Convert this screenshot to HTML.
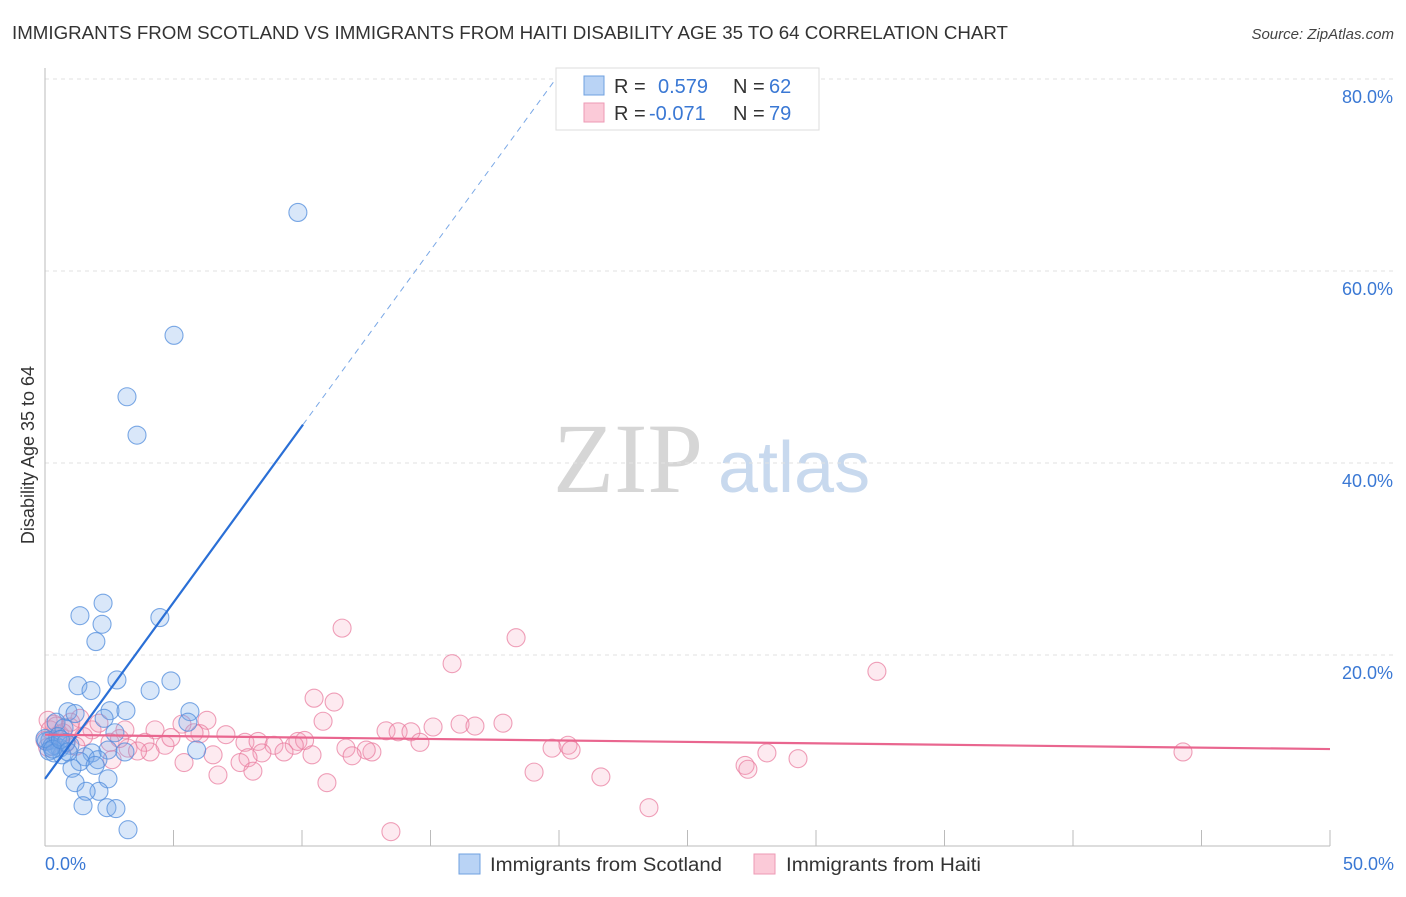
<!DOCTYPE html>
<html><head><meta charset="utf-8"><style>
body{margin:0;background:#fff;font-family:"Liberation Sans",sans-serif;}
</style></head><body>
<svg id="c" width="1406" height="892" viewBox="0 0 1406 892" font-family="Liberation Sans, sans-serif">
<text x="12" y="39" font-size="18" fill="#333" textLength="996" lengthAdjust="spacingAndGlyphs">IMMIGRANTS FROM SCOTLAND VS IMMIGRANTS FROM HAITI DISABILITY AGE 35 TO 64 CORRELATION CHART</text>
<text x="1394" y="39" font-size="15" fill="#444" font-style="italic" text-anchor="end">Source: ZipAtlas.com</text>
<g>
<text x="553" y="492" font-size="100" fill="#d6d6d6" style="font-family:'Liberation Serif',serif">ZIP</text>
<text x="718" y="492" font-size="72" fill="#c8d9ee">atlas</text>
</g>
<g id="grid"></g>
<g id="axes"></g>
<g id="pts"></g>
<g id="lines"></g>
<text x="34" y="455" font-size="18" fill="#333" text-anchor="middle" transform="rotate(-90 34 455)">Disability Age 35 to 64</text>
<text x="45" y="870" font-size="18" fill="#3a78d4">0.0%</text>
<text x="1394" y="870" font-size="18" fill="#3a78d4" text-anchor="end">50.0%</text>
<g>
<rect x="556" y="68" width="263" height="62" fill="#fff" stroke="#ddd"/>
<rect x="584" y="76" width="20" height="19" fill="#b9d3f5" stroke="#6fa0e0"/>
<rect x="584" y="103" width="20" height="19" fill="#fbcad8" stroke="#ee9ab5"/>
<text x="614" y="93" font-size="20" fill="#333">R =</text>
<text x="658" y="93" font-size="20" fill="#3a78d4">0.579</text>
<text x="733" y="93" font-size="20" fill="#333">N =</text>
<text x="769" y="93" font-size="20" fill="#3a78d4">62</text>
<text x="614" y="120" font-size="20" fill="#333">R =</text>
<text x="649" y="120" font-size="20" fill="#3a78d4">-0.071</text>
<text x="733" y="120" font-size="20" fill="#333">N =</text>
<text x="769" y="120" font-size="20" fill="#3a78d4">79</text>
</g>
<g>
<rect x="459" y="854" width="21" height="20" fill="#b9d3f5" stroke="#6fa0e0"/>
<text x="490" y="871" font-size="19" fill="#333" textLength="232" lengthAdjust="spacingAndGlyphs">Immigrants from Scotland</text>
<rect x="754" y="854" width="21" height="20" fill="#fbcad8" stroke="#ee9ab5"/>
<text x="786" y="871" font-size="19" fill="#333" textLength="195" lengthAdjust="spacingAndGlyphs">Immigrants from Haiti</text>
</g>
</svg>
<script>
const yTicks=[20,40,60,80];
const yTickLabels=["20.0%","40.0%","60.0%","80.0%"];
const xTicks=[0,5,10,15,20,25,30,35,40,45,50];
const blueX=[9.84,5.02,3.19,3.58,2.26,1.36,4.47,2.22,1.98,2.8,1.28,4.9,4.09,1.79,5.64,2.53,3.15,0.89,1.17,2.3,5.56,0.43,0.74,2.72,0.19,0.39,0.58,0.97,5.9,2.45,3.11,1.83,0.66,1.56,2.06,1.36,1.05,1.95,2.45,1.17,2.1,1.6,1.48,2.41,2.76,3.23,0.05,0.27,0.5,0.16,0.35,0.82,0.0,0.3,0.6,0.9];
const blueY=[66.1,53.3,46.9,42.9,25.4,24.1,23.9,23.2,21.4,17.4,16.8,17.3,16.3,16.3,14.1,14.2,14.2,14.1,13.9,13.4,13.0,13.0,12.4,11.9,11.1,10.6,10.3,10.6,10.1,10.1,9.9,9.8,9.6,9.4,9.1,8.9,8.2,8.5,7.1,6.7,5.8,5.8,4.3,4.1,4.0,1.8,11.0,10.5,11.5,10.0,9.8,10.9,11.3,10.2,11.2,9.9];
const pinkX=[11.56,18.33,15.84,32.37,10.47,11.25,10.82,17.82,16.15,16.73,15.1,6.3,5.33,13.27,13.74,14.24,4.28,3.11,1.83,0.12,0.43,1.36,7.04,6.03,7.78,8.29,8.91,9.84,10.1,9.7,14.59,3.89,4.67,3.23,2.53,19.73,20.35,20.47,11.71,12.72,12.5,11.95,10.39,9.3,8.44,7.9,6.54,2.61,4.09,7.59,5.41,28.09,29.3,27.24,27.35,44.28,19.03,21.63,6.73,8.09,10.97,23.5,13.46,0.2,0.58,0.97,0.0,1.5,0.8,2.1,2.9,1.2,0.35,3.6,4.9,5.8,1.0,0.7,0.1];
const pinkY=[22.8,21.8,19.1,18.3,15.5,15.1,13.1,12.9,12.8,12.6,12.5,13.2,12.8,12.1,12.0,12.0,12.2,12.2,12.2,13.2,12.6,13.4,11.7,11.8,10.9,11.0,10.6,11.0,11.1,10.6,10.9,10.9,10.6,10.3,10.9,10.3,10.6,10.1,10.3,9.9,10.1,9.5,9.6,9.9,9.8,9.3,9.6,9.1,9.9,8.8,8.8,9.8,9.2,8.5,8.1,9.9,7.8,7.3,7.5,7.9,6.7,4.1,1.6,12.2,11.7,12.5,11.1,11.5,10.8,12.9,11.3,10.5,12.8,10.0,11.4,11.9,13.0,11.9,10.4];
const blueTrendX=[0,10.04,19.9];
const blueTrendY=[7.1,44.0,80.1];
const pinkTrendX=[0,50];
const pinkTrendY=[11.7,10.2];

const NS="http://www.w3.org/2000/svg";
const xs=v=>45+v*25.7, ys=v=>847-v*9.6;
function mk(tag,attrs,parent){const e=document.createElementNS(NS,tag);for(const k in attrs)e.setAttribute(k,attrs[k]);parent.appendChild(e);return e;}
const grid=document.getElementById('grid'),axes=document.getElementById('axes'),pts=document.getElementById('pts'),lines=document.getElementById('lines');
yTicks.forEach((t,i)=>{
  const l=mk('line',{x1:45,x2:1394,y1:ys(t),y2:ys(t),stroke:'#e2e2e2','stroke-dasharray':'4,4'},grid);
  
  
  const tx=mk('text',{x:1393,y:ys(t)+24,'font-size':18,fill:'#3a78d4','text-anchor':'end'},axes);
  tx.textContent=yTickLabels[i];
  
  
});
const ya=mk('line',{x1:45,x2:45,y1:68,y2:846,stroke:'#bbb'},axes);


const xa=mk('line',{x1:45,x2:1330,y1:846,y2:846,stroke:'#bbb'},axes);


xTicks.forEach(t=>{
  const l=mk('line',{x1:xs(t),x2:xs(t),y1:830,y2:846,stroke:'#bbb'},axes);
  
  
});
pinkX.forEach((x,i)=>{
  const c=mk('circle',{cx:xs(x),cy:ys(pinkY[i]),r:9,fill:'rgba(245,160,188,0.22)',stroke:'rgba(232,120,155,0.7)','stroke-width':1.1},pts);
  
  
});
blueX.forEach((x,i)=>{
  const c=mk('circle',{cx:xs(x),cy:ys(blueY[i]),r:9,fill:'rgba(120,170,232,0.28)',stroke:'rgba(80,140,220,0.75)','stroke-width':1.1},pts);
  
  
});
const bl=mk('line',{x1:xs(blueTrendX[0]),y1:ys(blueTrendY[0]),x2:xs(blueTrendX[1]),y2:ys(blueTrendY[1]),stroke:'#2a6fd6','stroke-width':2.2},lines);


const bd=mk('line',{x1:xs(blueTrendX[1]),y1:ys(blueTrendY[1]),x2:xs(blueTrendX[2]),y2:ys(blueTrendY[2]),stroke:'#7aa8e6','stroke-width':1,'stroke-dasharray':'6,5'},lines);


const pl=mk('line',{x1:xs(pinkTrendX[0]),y1:ys(pinkTrendY[0]),x2:xs(pinkTrendX[1]),y2:ys(pinkTrendY[1]),stroke:'#e9668f','stroke-width':2.2},lines);


</script>
</body></html>
